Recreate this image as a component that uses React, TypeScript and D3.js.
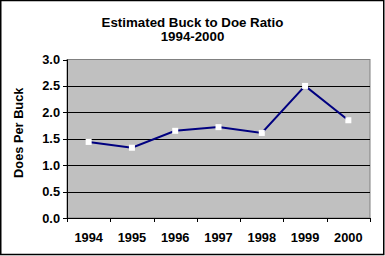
import React from "react";
import * as d3 from "d3";

const years = ["1994", "1995", "1996", "1997", "1998", "1999", "2000"];
const ratios = [1.44, 1.33, 1.65, 1.72, 1.61, 2.5, 1.85];
const yTicks = [0, 0.5, 1.0, 1.5, 2.0, 2.5, 3.0];

export default function App() {
  const W = 385, H = 256;
  const left = 67, right = 370, top = 59.5, bottom = 218;
  const x = d3.scaleBand<string>().domain(years).range([left, right]);
  const y = d3.scaleLinear().domain([0, 3]).range([bottom, top]);
  const line = d3
    .line<number>()
    .x((_, i) => (x(years[i]) as number) + x.bandwidth() / 2)
    .y((d) => y(d));
  const font = "'Liberation Sans', Arial, sans-serif";
  return (
    <svg
      width={W}
      height={H}
      style={{ position: "absolute", left: 0, top: 0, display: "block" }}
      fontFamily={font}
      fontWeight="bold"
    >
      <rect x={0} y={0} width={W} height={H} fill="#fff" />
      <rect x={0.75} y={0.5} width={383} height={254} fill="none" stroke="#000" strokeWidth={1.5} />
      <text x={192.5} y={26.5} textAnchor="middle" fontSize={13.3}>
        Estimated Buck to Doe Ratio
      </text>
      <text x={192.5} y={40.5} textAnchor="middle" fontSize={13.3}>
        1994-2000
      </text>
      <rect x={left} y={top} width={right - left} height={bottom - top} fill="#C0C0C0" stroke="#808080" strokeWidth={1} />
      {yTicks.map((t) => (
        <g key={t}>
          {t > 0 && t < 3 && (
            <line x1={left} x2={right} y1={Math.round(y(t)) + 0.5} y2={Math.round(y(t)) + 0.5} stroke="#000" />
          )}
          <line x1={left - 4} x2={left} y1={Math.round(y(t)) + 0.5} y2={Math.round(y(t)) + 0.5} stroke="#000" />
          <text x={left - 7} y={y(t) + 4.5} textAnchor="end" fontSize={12.8}>
            {t.toFixed(1)}
          </text>
        </g>
      ))}
      <line x1={left + 0.5} x2={left + 0.5} y1={top} y2={bottom + 4} stroke="#000" />
      <line x1={left - 4} x2={right + 0.5} y1={bottom + 0.5} y2={bottom + 0.5} stroke="#000" />
      {years.map((yr) => (
        <line
          key={"t" + yr}
          x1={Math.round((x(yr) as number) + x.bandwidth()) + 0.5}
          x2={Math.round((x(yr) as number) + x.bandwidth()) + 0.5}
          y1={bottom}
          y2={bottom + 4}
          stroke="#000"
        />
      ))}
      {years.map((yr) => (
        <text
          key={yr}
          x={(x(yr) as number) + x.bandwidth() / 2}
          y={242}
          textAnchor="middle"
          fontSize={12.8}
        >
          {yr}
        </text>
      ))}
      <text
        transform={`translate(23,${(top + bottom) / 2 - 6}) rotate(-90)`}
        textAnchor="middle"
        fontSize={12.8}
      >
        Does Per Buck
      </text>
      <path d={line(ratios) || ""} fill="none" stroke="#000080" strokeWidth={2} />
      {ratios.map((v, i) => (
        <rect
          key={i}
          x={(x(years[i]) as number) + x.bandwidth() / 2 - 3}
          y={y(v) - 3}
          width={6}
          height={6}
          fill="#fff"
        />
      ))}
    </svg>
  );
}
